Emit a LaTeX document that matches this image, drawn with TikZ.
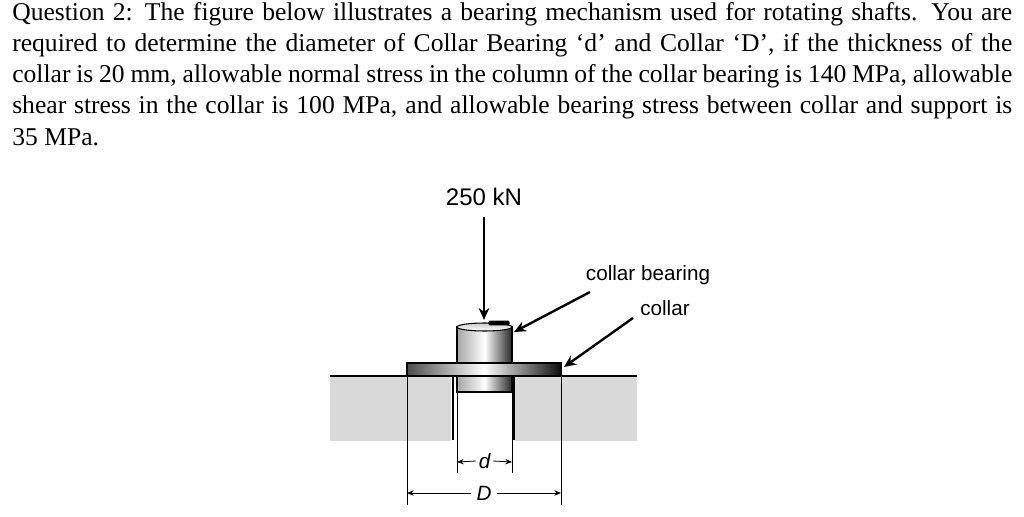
\documentclass[tikz,border=0pt]{standalone}
\usepackage{fontspec}
\setmainfont{Liberation Serif}
\setsansfont{Liberation Sans}
\usetikzlibrary{arrows.meta}
\begin{document}
\begin{tikzpicture}[x=0.75pt,y=-0.75pt,
  lbl/.style={font=\sffamily\fontsize{15.5}{17}\selectfont,inner sep=0},
  dl/.style={font=\sffamily\itshape\fontsize{15.5}{17}\selectfont,inner sep=0},
  pt/.style={-{Stealth[length=9pt,width=8pt]},line width=1.8pt},
  dtip/.style={-{Stealth[length=5pt,width=4pt]},line width=0.6pt}]
\useasboundingbox (0,0) rectangle (1024,517);
\node[anchor=north west,inner sep=0,text width=750pt,align=justify,font=\fontsize{19.2}{23.4}\selectfont] (q) at (12,2) {Question 2: The figure below illustrates a bearing mechanism used for rotating shafts. You are required to determine the diameter of Collar Bearing `d' and Collar `D', if the thickness of the collar is 20 mm, allowable normal stress in the column of the collar bearing is 140 MPa, allowable shear stress in the collar is 100 MPa, and allowable bearing stress between collar and support is\linebreak 35 MPa.};
% support
\fill[black!15] (330,377) rectangle (451,441);
\fill[black!15] (515,377) rectangle (637,441);
\draw[line width=1.3pt] (330,376) -- (407,376);
\draw[line width=1.3pt] (561,376) -- (637,376);
\draw[line width=1.5pt] (453,376) -- (453,440);
\draw[line width=1.5pt] (514,376) -- (514,440);
% shaft
\shade[left color=black!35,right color=black!85,middle color=white,draw=black,line width=0.8pt] (457,327) rectangle (512,392);
\shade[top color=black!20,bottom color=white,draw=black,line width=0.8pt] (457,327) arc[start angle=180,end angle=0,x radius=27.5,y radius=-4] -- (512,327) arc[start angle=0,end angle=-180,x radius=27.5,y radius=-4];
\node[fill=black,minimum width=16pt,minimum height=3.5pt,inner sep=0,rounded corners=1pt] (bk) at (499,323) {};
% collar
\shade[left color=black!70,right color=black!95,middle color=white,draw=black,line width=0.8pt] (407,363) rectangle (561,376);
% dims
\draw[line width=0.5pt] (457,392) -- (457,473) (512,392) -- (512,473);
\draw[line width=0.5pt] (407,377) -- (407,505) (561,377) -- (561,505);
\node[dl,fill=white,inner xsep=2pt] (dlab) at (484.5,461) {d};
\draw[dtip] (dlab.west) -- (457,462);
\draw[dtip] (dlab.east) -- (512,462);
\node[dl,inner xsep=4pt] (Dl) at (484,493) {D};
\draw[dtip] (Dl.west) -- (407,493);
\draw[dtip] (Dl.east) -- (561,493);
% load
\node[lbl,font=\sffamily\fontsize{18}{20}\selectfont] (F) at (484,197) {250 kN};
\coordinate (ft) at (484,217);
\draw[pt] (ft) -- (484,320);
\node[lbl] (cb) at (648,275) {collar bearing};
\node[lbl] (c) at (665,308) {collar};
\coordinate (a1) at (590,292);
\coordinate (a2) at (633,318);
\draw[pt] (a1) -- (514,332);
\draw[pt] (a2) -- (564,367);
\end{tikzpicture}
\end{document}
